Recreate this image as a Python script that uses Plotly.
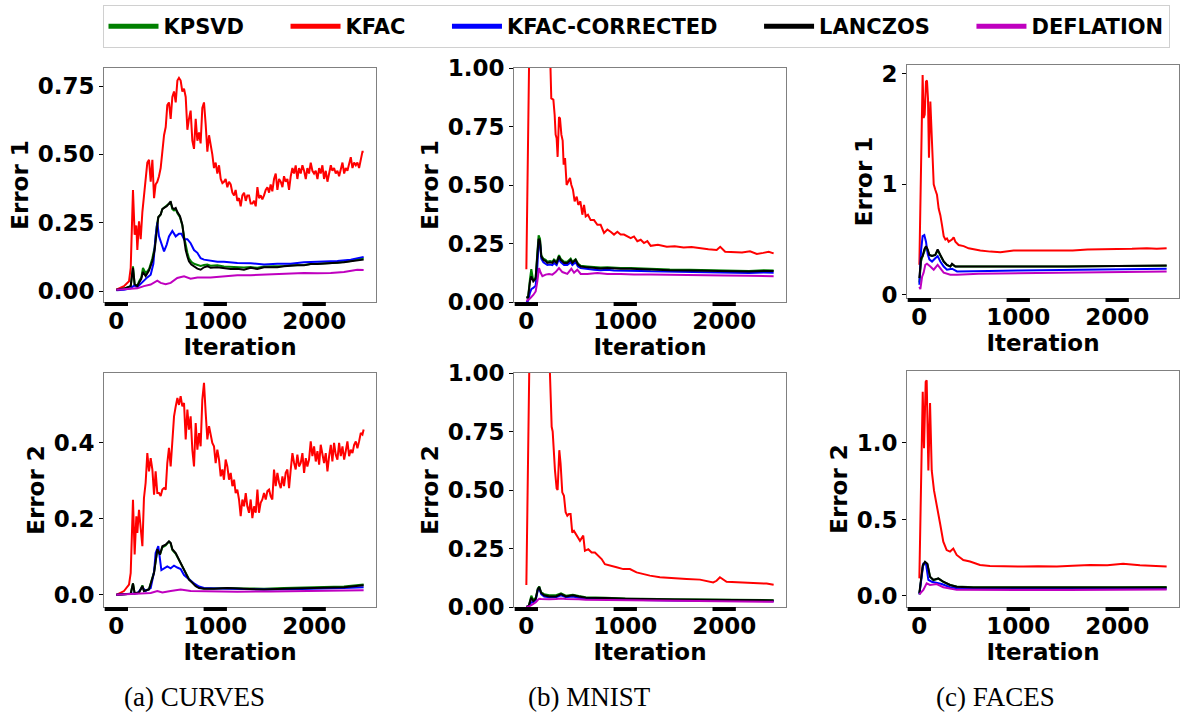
import plotly.graph_objects as go

# ---------------- DATA ----------------
METHODS = ["KPSVD", "KFAC", "KFAC-CORRECTED", "LANCZOS", "DEFLATION"]
COLORS = {"KPSVD": "#008000", "KFAC": "#ff0000", "KFAC-CORRECTED": "#0000ff",
          "LANCZOS": "#000000", "DEFLATION": "#bf00bf"}
X_TICKS = [0, 1000, 2000]
CAPTIONS = ["(a) CURVES", "(b) MNIST", "(c) FACES"]

# ---- CURVES, Error 1 ----
curves_e1_kfac_x = [0, 77, 128, 145, 168, 185, 202, 212, 229, 246, 263,
    279, 296, 313, 330, 347, 364, 381, 397, 414, 431, 448, 465, 482, 499, 515, 532, 549, 566, 583, 600,
    617, 633, 650, 667, 684, 701, 718, 734, 751, 768, 785, 802, 819, 836, 852, 869, 886, 903, 920, 937,
    954, 970, 987, 1004, 1021, 1038, 1055, 1072, 1088, 1105, 1122, 1139, 1156, 1173, 1190, 1206, 1223,
    1240, 1257, 1274, 1291, 1308, 1324, 1341, 1358, 1375, 1392, 1409, 1426, 1442, 1459, 1476, 1493,
    1510, 1527, 1544, 1560, 1577, 1594, 1611, 1628, 1645, 1662, 1679, 1695, 1712, 1729, 1746, 1763,
    1780, 1797, 1813, 1830, 1847, 1864, 1881, 1898, 1915, 1931, 1948, 1965, 1982, 1999, 2016, 2033,
    2050, 2066, 2083, 2100, 2117, 2134, 2151, 2168, 2184, 2201, 2218, 2235, 2252, 2269, 2286, 2303,
    2319, 2336, 2353, 2370, 2387, 2404, 2421, 2437, 2454, 2471, 2488, 2500]
curves_e1_kfac_y = [0.005, 0.018, 0.036, 0.085, 0.37, 0.206, 0.24, 0.15, 0.255, 0.19, 0.29,
    0.35, 0.39, 0.47, 0.48, 0.40, 0.48, 0.34, 0.39, 0.40, 0.42, 0.45, 0.51, 0.57, 0.60, 0.68, 0.69, 0.63,
    0.71, 0.73, 0.69, 0.77, 0.78, 0.77, 0.73, 0.74, 0.71, 0.59, 0.63, 0.66, 0.55, 0.52, 0.63, 0.55, 0.58,
    0.54, 0.67, 0.69, 0.61, 0.51, 0.57, 0.54, 0.50, 0.45, 0.47, 0.43, 0.46, 0.41, 0.395, 0.40, 0.41, 0.38,
    0.40, 0.39, 0.36, 0.35, 0.37, 0.33, 0.34, 0.31, 0.35, 0.36, 0.33, 0.35, 0.35, 0.32, 0.32, 0.33, 0.31,
    0.38, 0.34, 0.35, 0.335, 0.35, 0.37, 0.38, 0.36, 0.39, 0.365, 0.41, 0.43, 0.37, 0.41, 0.40, 0.38, 0.42,
    0.40, 0.41, 0.37, 0.42, 0.45, 0.43, 0.46, 0.41, 0.45, 0.43, 0.46, 0.44, 0.41, 0.45, 0.43, 0.47, 0.44,
    0.43, 0.44, 0.41, 0.45, 0.43, 0.46, 0.41, 0.44, 0.40, 0.43, 0.46, 0.44, 0.45, 0.43, 0.44, 0.42, 0.45,
    0.47, 0.43, 0.45, 0.44, 0.47, 0.49, 0.45, 0.47, 0.46, 0.47, 0.45, 0.48, 0.51, 0.51]
curves_e1_lanczos_x = [0, 77, 145, 168, 185, 212, 229, 252, 269, 296, 330, 364, 387, 407, 424, 448,
    465, 482, 509, 532, 549, 566, 583, 600, 616, 643, 667, 684, 701, 718, 734, 758, 785, 819, 852, 886,
    920, 953, 1021, 1088, 1156, 1223, 1290, 1358, 1425, 1493, 1560, 1627, 1695, 1762, 1830, 1897, 1964,
    2032, 2099, 2167, 2234, 2301, 2369, 2436, 2500]
curves_e1_lanczos_y = [0.005, 0.009, 0.018, 0.085, 0.024, 0.018, 0.03, 0.045, 0.07, 0.055, 0.075,
    0.11, 0.15, 0.23, 0.27, 0.28, 0.30, 0.304, 0.31, 0.32, 0.328, 0.304, 0.30, 0.304, 0.29, 0.274, 0.243,
    0.194, 0.15, 0.127, 0.109, 0.097, 0.091, 0.082, 0.078, 0.087, 0.091, 0.085, 0.087, 0.085, 0.081,
    0.082, 0.078, 0.085, 0.081, 0.087, 0.088, 0.087, 0.091, 0.093, 0.094, 0.094, 0.099, 0.099, 0.1,
    0.101, 0.103, 0.105, 0.109, 0.113, 0.115]
curves_e1_kpsvd_y = [0.005, 0.009, 0.018, 0.09, 0.024, 0.02, 0.035, 0.05, 0.085, 0.065, 0.08, 0.12,
    0.16, 0.235, 0.27, 0.28, 0.30, 0.305, 0.31, 0.32, 0.325, 0.30, 0.295, 0.30, 0.285, 0.27, 0.24, 0.2,
    0.165, 0.14, 0.12, 0.107, 0.1, 0.095, 0.092, 0.095, 0.097, 0.093, 0.094, 0.09, 0.088, 0.087, 0.086,
    0.088, 0.085, 0.09, 0.09, 0.09, 0.092, 0.094, 0.095, 0.095, 0.099, 0.1, 0.101, 0.102, 0.104, 0.107,
    0.11, 0.116, 0.12]
curves_e1_corr_x = [0, 77, 145, 178, 212, 252, 279, 313, 347, 374, 397, 414, 431, 455, 482, 509, 532,
    566, 600, 633, 657, 684, 718, 751, 785, 819, 852, 886, 953, 1021, 1088, 1223, 1358, 1493, 1627, 1762,
    1897, 2066, 2234, 2369, 2500]
curves_e1_corr_y = [0.003, 0.005, 0.01, 0.02, 0.015, 0.03, 0.04, 0.05, 0.06, 0.1, 0.2, 0.25, 0.2, 0.17,
    0.145, 0.17, 0.2, 0.22, 0.2, 0.21, 0.21, 0.19, 0.19, 0.175, 0.15, 0.14, 0.12, 0.115, 0.11, 0.107,
    0.107, 0.103, 0.102, 0.097, 0.1, 0.1, 0.105, 0.107, 0.11, 0.115, 0.125]
curves_e1_defl_x = [0, 145, 212, 279, 347, 414, 448, 498, 549, 616, 684, 751, 819, 953, 1088, 1223,
    1358, 1493, 1627, 1762, 1897, 2032, 2167, 2301, 2436, 2500]
curves_e1_defl_y = [0.005, 0.008, 0.01, 0.018, 0.024, 0.038, 0.03, 0.025, 0.03, 0.048, 0.054, 0.045,
    0.05, 0.05, 0.054, 0.058, 0.058, 0.06, 0.063, 0.066, 0.066, 0.065, 0.066, 0.07, 0.078, 0.077]

# ---- CURVES, Error 2 ----
curves_e2_kfac_y = [0.0, 0.01, 0.027, 0.058, 0.25, 0.106, 0.207, 0.163, 0.224, 0.172, 0.128,
    0.255, 0.295, 0.373, 0.325, 0.36, 0.33, 0.264, 0.325, 0.268, 0.268, 0.26, 0.277, 0.281, 0.277, 0.347,
    0.387, 0.338, 0.409, 0.47, 0.496, 0.518, 0.5, 0.523, 0.496, 0.505, 0.409, 0.488, 0.435, 0.47, 0.382,
    0.338, 0.452, 0.382, 0.426, 0.391, 0.514, 0.558, 0.479, 0.409, 0.444, 0.417, 0.4, 0.391, 0.347, 0.382,
    0.356, 0.312, 0.33, 0.303, 0.356, 0.338, 0.303, 0.321, 0.286, 0.303, 0.268, 0.277, 0.251, 0.207,
    0.251, 0.233, 0.268, 0.233, 0.216, 0.251, 0.202, 0.233, 0.216, 0.277, 0.216, 0.242, 0.251, 0.268,
    0.251, 0.273, 0.277, 0.26, 0.251, 0.33, 0.286, 0.321, 0.295, 0.281, 0.312, 0.286, 0.321, 0.33, 0.281,
    0.33, 0.373, 0.347, 0.33, 0.369, 0.338, 0.347, 0.373, 0.321, 0.36, 0.338, 0.356, 0.404, 0.365, 0.391,
    0.351, 0.378, 0.343, 0.395, 0.365, 0.347, 0.373, 0.325, 0.365, 0.395, 0.351, 0.4, 0.369, 0.356, 0.4,
    0.365, 0.391, 0.356, 0.378, 0.404, 0.365, 0.382, 0.373, 0.395, 0.404, 0.386, 0.404, 0.426, 0.422,
    0.435]
curves_e2_lanczos_x = [0, 145, 168, 185, 229, 263, 279, 330, 381, 414, 441, 465, 498, 532, 549, 566,
    600, 633, 667, 701, 734, 768, 802, 836, 886, 987, 1122, 1290, 1493, 1695, 1897, 2099, 2301, 2500]
curves_e2_lanczos_y = [0, 0.003, 0.03, 0.004, 0.006, 0.023, 0.01, 0.014, 0.058, 0.12, 0.106, 0.128,
    0.132, 0.141, 0.137, 0.12, 0.11, 0.093, 0.075, 0.054, 0.04, 0.032, 0.023, 0.018, 0.016, 0.016, 0.018,
    0.016, 0.014, 0.016, 0.017, 0.018, 0.02, 0.025]
curves_e2_kpsvd_y = [0, 0.003, 0.03, 0.004, 0.006, 0.025, 0.01, 0.015, 0.06, 0.118, 0.106, 0.125, 0.13,
    0.14, 0.135, 0.118, 0.108, 0.092, 0.075, 0.056, 0.042, 0.033, 0.024, 0.019, 0.017, 0.017, 0.018,
    0.017, 0.016, 0.018, 0.019, 0.02, 0.022, 0.027]
curves_e2_corr_x = [0, 145, 212, 263, 296, 347, 381, 397, 424, 455, 482, 515, 549, 583, 616, 650, 684,
    734, 785, 836, 886, 1021, 1223, 1493, 1762, 2032, 2301, 2500]
curves_e2_corr_y = [0, 0.002, 0.004, 0.02, 0.01, 0.018, 0.06, 0.11, 0.128, 0.065, 0.07, 0.075, 0.07,
    0.077, 0.072, 0.068, 0.052, 0.04, 0.03, 0.022, 0.018, 0.017, 0.016, 0.014, 0.015, 0.016, 0.018, 0.02]
curves_e2_defl_x = [0, 212, 347, 414, 465, 549, 650, 751, 886, 1223, 1560, 1897, 2234, 2500]
curves_e2_defl_y = [0, 0.002, 0.005, 0.01, 0.006, 0.01, 0.014, 0.01, 0.009, 0.008, 0.009, 0.01, 0.011,
    0.012]

# ---- MNIST, Error 1 ----
mnist_e1_kfac_x = [0, 40, 120, 225, 252, 273, 286, 296, 306, 316, 330, 340, 354, 367, 377, 391, 407,
    424, 441, 455, 471, 488, 509, 525, 546, 566, 583, 600, 623, 650, 684, 718, 751, 785, 819, 852, 886,
    920, 953, 987, 1021, 1055, 1088, 1122, 1156, 1189, 1223, 1257, 1330, 1420, 1500, 1590, 1670, 1755,
    1840, 1924, 1960, 2010, 2092, 2180, 2261, 2330, 2395, 2450, 2500]
mnist_e1_kfac_y = [0.14, 1.42, 2.5, 1.3, 0.87, 0.865, 0.8, 0.715, 0.70, 0.62, 0.79, 0.785, 0.715,
    0.69, 0.587, 0.615, 0.5, 0.515, 0.53, 0.5, 0.48, 0.43, 0.45, 0.415, 0.43, 0.373, 0.415, 0.366, 0.373,
    0.35, 0.35, 0.33, 0.33, 0.295, 0.31, 0.30, 0.288, 0.30, 0.288, 0.288, 0.28, 0.273, 0.28, 0.26, 0.266,
    0.252, 0.26, 0.24, 0.245, 0.236, 0.238, 0.233, 0.235, 0.229, 0.225, 0.222, 0.236, 0.215, 0.215, 0.212,
    0.217, 0.205, 0.21, 0.215, 0.208]
mnist_e1_lanczos_x = [0, 17, 37, 50, 70, 94, 111, 124, 138, 151, 172, 195, 212, 239, 263, 279, 306,
    330, 347, 381, 414, 448, 465, 498, 522, 549, 616, 684, 751, 819, 886, 953, 1055, 1156, 1257, 1450,
    1650, 1850, 2050, 2250, 2400, 2500]
mnist_e1_lanczos_y = [0.02, 0.018, 0.088, 0.11, 0.088, 0.10, 0.2, 0.27, 0.26, 0.195, 0.18, 0.175,
    0.167, 0.17, 0.167, 0.177, 0.167, 0.195, 0.18, 0.167, 0.167, 0.18, 0.167, 0.18, 0.16, 0.152, 0.148,
    0.145, 0.143, 0.145, 0.142, 0.142, 0.142, 0.14, 0.138, 0.136, 0.135, 0.133, 0.132, 0.13, 0.133,
    0.132]
mnist_e1_kpsvd_y = [0.02, 0.02, 0.1, 0.14, 0.09, 0.105, 0.21, 0.285, 0.27, 0.2, 0.185, 0.18, 0.172,
    0.175, 0.172, 0.182, 0.172, 0.2, 0.185, 0.172, 0.172, 0.185, 0.172, 0.183, 0.165, 0.155, 0.152,
    0.148, 0.147, 0.148, 0.146, 0.145, 0.145, 0.143, 0.141, 0.139, 0.138, 0.136, 0.135, 0.133, 0.136,
    0.135]
mnist_e1_corr_y = [0.0, 0.005, 0.04, 0.055, 0.06, 0.07, 0.15, 0.255, 0.25, 0.185, 0.17, 0.165, 0.158,
    0.16, 0.158, 0.167, 0.158, 0.185, 0.17, 0.158, 0.158, 0.17, 0.158, 0.17, 0.152, 0.145, 0.14, 0.138,
    0.136, 0.138, 0.135, 0.135, 0.135, 0.133, 0.131, 0.129, 0.128, 0.126, 0.125, 0.124, 0.126, 0.125]
mnist_e1_defl_x = [0, 37, 70, 94, 111, 128, 145, 162, 195, 229, 263, 296, 330, 364, 414, 455, 482,
    515, 549, 616, 718, 819, 953, 1088, 1257, 1500, 1750, 2000, 2250, 2500]
mnist_e1_defl_y = [0.005, 0.015, 0.03, 0.045, 0.088, 0.145, 0.125, 0.11, 0.117, 0.12, 0.117, 0.128,
    0.145, 0.128, 0.12, 0.142, 0.125, 0.138, 0.12, 0.12, 0.124, 0.12, 0.12, 0.117, 0.117, 0.115, 0.114,
    0.113, 0.112, 0.11]

# ---- MNIST, Error 2 ----
mnist_e2_kfac_x = [0, 40, 120, 215, 256, 266, 289, 306, 316, 333, 346, 363, 380, 397, 414, 430, 447,
    464, 481, 508, 542, 575, 592, 626, 660, 693, 727, 761, 794, 845, 912, 980, 1047, 1114, 1182, 1249,
    1350, 1485, 1620, 1755, 1889, 1923, 1957, 2024, 2159, 2294, 2429, 2500]
mnist_e2_kfac_y = [0.094, 1.35, 2.2, 1.3, 0.77, 0.75, 0.585, 0.507, 0.5, 0.67, 0.613, 0.49, 0.475,
    0.405, 0.39, 0.397, 0.397, 0.318, 0.325, 0.305, 0.283, 0.305, 0.24, 0.247, 0.233, 0.233, 0.219,
    0.205, 0.183, 0.176, 0.17, 0.162, 0.162, 0.148, 0.141, 0.134, 0.127, 0.122, 0.12, 0.117, 0.105,
    0.112, 0.127, 0.108, 0.105, 0.103, 0.1, 0.095]
mnist_e2_small_x = [0, 25, 50, 70, 95, 115, 130, 150, 180, 230, 300, 350, 400, 470, 530, 600, 800,
    1000, 1500, 2000, 2500]
mnist_e2_lanczos_y = [0.0, 0.005, 0.04, 0.025, 0.035, 0.075, 0.085, 0.06, 0.05, 0.045, 0.045, 0.055,
    0.045, 0.05, 0.045, 0.04, 0.038, 0.035, 0.032, 0.03, 0.028]
mnist_e2_kpsvd_y = [0.0, 0.006, 0.048, 0.03, 0.04, 0.078, 0.088, 0.062, 0.055, 0.05, 0.05, 0.058,
    0.048, 0.052, 0.047, 0.042, 0.04, 0.036, 0.033, 0.031, 0.029]
mnist_e2_corr_y = [0.0, 0.003, 0.02, 0.02, 0.03, 0.07, 0.08, 0.055, 0.045, 0.042, 0.042, 0.05, 0.042,
    0.045, 0.04, 0.036, 0.034, 0.031, 0.028, 0.026, 0.025]
mnist_e2_defl_y = [0.0, 0.002, 0.008, 0.012, 0.02, 0.03, 0.035, 0.034, 0.033, 0.033, 0.034, 0.036,
    0.034, 0.035, 0.033, 0.031, 0.03, 0.028, 0.025, 0.023, 0.022]

# ---- FACES, Error 1 ----
faces_e1_kfac_x = [0, 33, 43, 54, 67, 77, 87, 97, 111, 128, 145, 161, 178, 195, 212, 229, 246, 263,
    279, 296, 330, 347, 364, 397, 448, 498, 549, 616, 718, 819, 953, 1088, 1250, 1400, 1550, 1700, 1850,
    2000, 2150, 2300, 2400, 2500]
faces_e1_kfac_y = [0.27, 1.99, 1.6, 1.63, 1.93, 1.94, 1.78, 1.24, 1.75, 1.33, 1.0, 0.95, 0.905, 0.78,
    0.72, 0.63, 0.53, 0.5, 0.51, 0.48, 0.5, 0.52, 0.48, 0.45, 0.44, 0.42, 0.41, 0.4, 0.39, 0.385, 0.4,
    0.4, 0.4, 0.405, 0.4, 0.41, 0.41, 0.415, 0.415, 0.42, 0.415, 0.42]
faces_e1_lanczos_x = [0, 17, 33, 50, 67, 84, 101, 128, 161, 185, 212, 246, 279, 313, 330, 364, 414,
    482, 700, 1000, 1500, 2000, 2500]
faces_e1_lanczos_y = [0.15, 0.33, 0.35, 0.41, 0.44, 0.41, 0.36, 0.35, 0.36, 0.41, 0.36, 0.3, 0.27,
    0.255, 0.28, 0.255, 0.255, 0.255, 0.25, 0.25, 0.255, 0.26, 0.265]
faces_e1_kpsvd_y = [0.11, 0.3, 0.35, 0.4, 0.43, 0.4, 0.36, 0.35, 0.36, 0.4, 0.355, 0.3, 0.27, 0.255,
    0.275, 0.255, 0.255, 0.255, 0.25, 0.25, 0.255, 0.26, 0.262]
faces_e1_corr_x = [0, 17, 33, 50, 67, 84, 101, 128, 161, 185, 212, 246, 279, 330, 381, 482, 700, 1000,
    1500, 2000, 2500]
faces_e1_corr_y = [0.09, 0.4, 0.53, 0.54, 0.48, 0.37, 0.32, 0.3, 0.33, 0.35, 0.3, 0.255, 0.226, 0.235,
    0.21, 0.21, 0.215, 0.22, 0.225, 0.23, 0.235]
faces_e1_defl_x = [0, 10, 27, 43, 60, 77, 111, 145, 185, 212, 246, 313, 381, 600, 1000, 1500, 2000,
    2500]
faces_e1_defl_y = [0.07, 0.05, 0.16, 0.2, 0.27, 0.28, 0.255, 0.226, 0.27, 0.24, 0.2, 0.18, 0.18, 0.19,
    0.195, 0.2, 0.205, 0.21]

# ---- FACES, Error 2 ----
faces_e2_kfac_x = [0, 34, 47, 64, 74, 91, 108, 125, 148, 175, 209, 242, 276, 310, 343, 377, 444, 512,
    613, 714, 883, 1050, 1200, 1390, 1550, 1725, 1900, 2060, 2230, 2400, 2500]
faces_e2_kfac_y = [0.115, 1.335, 0.965, 1.4, 1.41, 0.82, 1.26, 0.82, 0.69, 0.605, 0.475, 0.355, 0.3,
    0.29, 0.31, 0.268, 0.235, 0.225, 0.203, 0.196, 0.192, 0.192, 0.195, 0.192, 0.198, 0.203, 0.2, 0.21,
    0.2, 0.195, 0.192]
faces_e2_lanczos_x = [0, 34, 57, 81, 108, 142, 192, 242, 310, 377, 546, 1000, 1500, 2000, 2500]
faces_e2_lanczos_y = [0.018, 0.2, 0.224, 0.21, 0.126, 0.105, 0.115, 0.093, 0.072, 0.061, 0.055, 0.054,
    0.055, 0.055, 0.056]
faces_e2_kpsvd_y = [0.01, 0.19, 0.22, 0.205, 0.125, 0.104, 0.113, 0.092, 0.072, 0.062, 0.057, 0.056,
    0.057, 0.057, 0.058]
faces_e2_corr_x = [0, 40, 67, 91, 125, 175, 226, 310, 444, 1000, 1500, 2000, 2500]
faces_e2_corr_y = [0.01, 0.21, 0.21, 0.105, 0.093, 0.087, 0.078, 0.057, 0.045, 0.045, 0.046, 0.046,
    0.047]
faces_e2_defl_x = [0, 40, 74, 108, 175, 242, 377, 1000, 1500, 2000, 2500]
faces_e2_defl_y = [0.01, 0.04, 0.083, 0.072, 0.078, 0.057, 0.04, 0.038, 0.039, 0.04, 0.042]

# per-panel series: method -> (x, y)
PANELS = [
    {"KPSVD": (curves_e1_lanczos_x, curves_e1_kpsvd_y), "KFAC": (curves_e1_kfac_x, curves_e1_kfac_y),
     "KFAC-CORRECTED": (curves_e1_corr_x, curves_e1_corr_y),
     "LANCZOS": (curves_e1_lanczos_x, curves_e1_lanczos_y), "DEFLATION": (curves_e1_defl_x, curves_e1_defl_y)},
    {"KPSVD": (mnist_e1_lanczos_x, mnist_e1_kpsvd_y), "KFAC": (mnist_e1_kfac_x, mnist_e1_kfac_y),
     "KFAC-CORRECTED": (mnist_e1_lanczos_x, mnist_e1_corr_y),
     "LANCZOS": (mnist_e1_lanczos_x, mnist_e1_lanczos_y), "DEFLATION": (mnist_e1_defl_x, mnist_e1_defl_y)},
    {"KPSVD": (faces_e1_lanczos_x, faces_e1_kpsvd_y), "KFAC": (faces_e1_kfac_x, faces_e1_kfac_y),
     "KFAC-CORRECTED": (faces_e1_corr_x, faces_e1_corr_y),
     "LANCZOS": (faces_e1_lanczos_x, faces_e1_lanczos_y), "DEFLATION": (faces_e1_defl_x, faces_e1_defl_y)},
    {"KPSVD": (curves_e2_lanczos_x, curves_e2_kpsvd_y), "KFAC": (curves_e1_kfac_x, curves_e2_kfac_y),
     "KFAC-CORRECTED": (curves_e2_corr_x, curves_e2_corr_y),
     "LANCZOS": (curves_e2_lanczos_x, curves_e2_lanczos_y), "DEFLATION": (curves_e2_defl_x, curves_e2_defl_y)},
    {"KPSVD": (mnist_e2_small_x, mnist_e2_kpsvd_y), "KFAC": (mnist_e2_kfac_x, mnist_e2_kfac_y),
     "KFAC-CORRECTED": (mnist_e2_small_x, mnist_e2_corr_y),
     "LANCZOS": (mnist_e2_small_x, mnist_e2_lanczos_y), "DEFLATION": (mnist_e2_small_x, mnist_e2_defl_y)},
    {"KPSVD": (faces_e2_lanczos_x, faces_e2_kpsvd_y), "KFAC": (faces_e2_kfac_x, faces_e2_kfac_y),
     "KFAC-CORRECTED": (faces_e2_corr_x, faces_e2_corr_y),
     "LANCZOS": (faces_e2_lanczos_x, faces_e2_lanczos_y), "DEFLATION": (faces_e2_defl_x, faces_e2_defl_y)},
]
Y_TITLES = ["Error 1", "Error 1", "Error 1", "Error 2", "Error 2", "Error 2"]
Y_RANGES = [[-0.04, 0.816], [0, 1], [-0.03, 2.08], [-0.032, 0.584], [0, 1], [-0.072, 1.47]]
Y_TICKVALS = [[0, 0.25, 0.5, 0.75], [0, 0.25, 0.5, 0.75, 1.0], [0, 1, 2],
              [0, 0.2, 0.4], [0, 0.25, 0.5, 0.75, 1.0], [0, 0.5, 1.0]]
Y_FORMATS = [".2f", ".2f", "d", ".1f", ".2f", ".1f"]

# ---------------- LAYOUT ----------------
W, H = 1180, 715
X_DOMAINS = [(104, 376), (514, 786), (907, 1179)]
Y_DOMAINS = [[(68, 302), (68, 302), (65, 298)], [(373, 607), (373, 607), (371, 607)]]

fig = go.Figure()
BOLD = dict(family="DejaVu Sans", size=23, color="black", weight="bold")

for i, panel in enumerate(PANELS):
    n = i + 1
    xa = "x" if n == 1 else f"x{n}"
    ya = "y" if n == 1 else f"y{n}"
    for m in METHODS:
        xs, ys = panel[m]
        fig.add_trace(go.Scatter(x=xs, y=ys, mode="lines", xaxis=xa, yaxis=ya, showlegend=False,
                                 line=dict(color=COLORS[m], width=2), name=m))
    r, c = divmod(i, 3)
    x0, x1 = X_DOMAINS[c]
    y0, y1 = Y_DOMAINS[r][c]
    axis_common = dict(showline=True, mirror=True, linecolor="#808080", linewidth=1, showgrid=False,
                       zeroline=False, ticks="outside", tickcolor="black", automargin=False,
                       tickfont=BOLD)
    fig.layout[f"xaxis{'' if n == 1 else n}"] = dict(
        domain=[x0 / W, x1 / W], anchor=ya, range=[-125, 2625], tickvals=X_TICKS, ticklen=1,
        ticklabelstandoff=-3, title=dict(text="Iteration", font=BOLD, standoff=0), **axis_common)
    fig.layout[f"yaxis{'' if n == 1 else n}"] = dict(
        domain=[1 - y1 / H, 1 - y0 / H], anchor=xa, range=Y_RANGES[i], tickvals=Y_TICKVALS[i],
        tickformat=Y_FORMATS[i], ticklen=4, title=dict(text=Y_TITLES[i], font=BOLD, standoff=2),
        **axis_common)
    for t in X_TICKS:
        fig.add_shape(type="rect", xref=xa, yref=f"{ya} domain", x0=t - 118, x1=t + 118,
                      y0=-0.017, y1=0.0, fillcolor="black", line=dict(width=0), layer="above")

# legend-only entries (thick lines like the reference legend)
NBSP = "\u00a0"
for k, m in enumerate(METHODS):
    label = m + (NBSP * 5 if k < len(METHODS) - 1 else "")
    fig.add_trace(go.Scatter(x=[None], y=[None], mode="lines", name=label,
                             line=dict(color=COLORS[m], width=5), showlegend=True))

CAPTION_X = [194, 589, 995]
for k, cap in enumerate(CAPTIONS):
    fig.add_annotation(text=cap, xref="paper", yref="paper", x=CAPTION_X[k] / W, y=1 - 697 / H,
                       showarrow=False, xanchor="center", yanchor="middle",
                       font=dict(family="Liberation Serif", size=27, color="black"))

fig.update_layout(
    width=W, height=H, margin=dict(l=0, r=0, t=0, b=0, autoexpand=False),
    paper_bgcolor="white", plot_bgcolor="white",
    legend=dict(orientation="h", x=636 / W, xanchor="center", y=1 - 5 / H, yanchor="top",
                font=dict(family="DejaVu Sans", size=21, color="black", weight="bold"),
                bordercolor="#d0d0d0", borderwidth=1, itemwidth=50, bgcolor="white"),
)

fig.write_html("out.html")
